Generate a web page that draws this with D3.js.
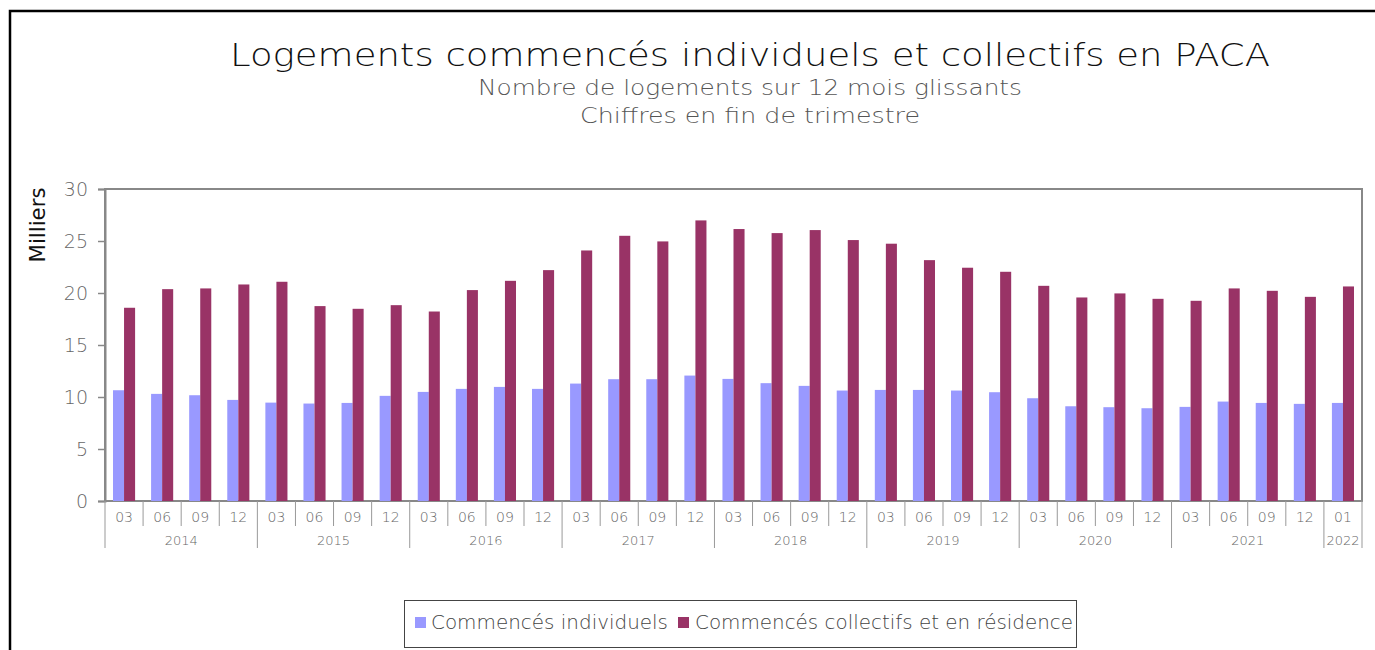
<!DOCTYPE html>
<html>
<head>
<meta charset="utf-8">
<script src="https://cdn.jsdelivr.net/npm/d3@7"></script>
<style>
  body { margin: 0; background: #fff; }
  svg { font-family: "DejaVu Sans", sans-serif; }
</style>
</head>
<body>
<div id="chart"></div>
<script>
// quarter labels and years
const periods = [
  "2014-03","2014-06","2014-09","2014-12",
  "2015-03","2015-06","2015-09","2015-12",
  "2016-03","2016-06","2016-09","2016-12",
  "2017-03","2017-06","2017-09","2017-12",
  "2018-03","2018-06","2018-09","2018-12",
  "2019-03","2019-06","2019-09","2019-12",
  "2020-03","2020-06","2020-09","2020-12",
  "2021-03","2021-06","2021-09","2021-12",
  "2022-01"
];
const individuels = [
  10.65, 10.3, 10.17, 9.72, 9.46, 9.37, 9.43, 10.11, 10.49, 10.78, 10.97, 10.78,
  11.29, 11.71, 11.71, 12.06, 11.74, 11.33, 11.07, 10.62, 10.68, 10.68, 10.62, 10.46,
  9.88, 9.11, 9.02, 8.92, 9.05, 9.56, 9.43, 9.34, 9.43
];
const collectifs = [
  18.58, 20.37, 20.44, 20.82, 21.08, 18.74, 18.48, 18.83, 18.22, 20.28, 21.17, 22.2,
  24.09, 25.5, 24.96, 26.98, 26.15, 25.76, 26.05, 25.09, 24.74, 23.16, 22.43, 22.04,
  20.69, 19.57, 19.96, 19.44, 19.25, 20.44, 20.21, 19.63, 20.63
];
const seriesNames = ["Commencés individuels", "Commencés collectifs et en résidence"];
const yTicks = [0, 5, 10, 15, 20, 25, 30];

const W = 1375, H = 650;
const plot = { left: 105, right: 1362, top: 189, bottom: 501 };
const colors = ["#9999ff", "#993366"];

const svg = d3.select("#chart").append("svg")
  .attr("width", W).attr("height", H);

// outer frame
svg.append("rect")
  .attr("x", 10).attr("y", 11).attr("width", W + 20).attr("height", H + 20)
  .attr("fill", "none").attr("stroke", "#000").attr("stroke-width", 2.5);

// titles
svg.append("text").attr("x", 750).attr("y", 66).attr("text-anchor", "middle")
  .attr("font-size", 32).attr("font-weight", 300).attr("fill", "#111")
  .attr("textLength", 1040).attr("lengthAdjust", "spacingAndGlyphs")
  .text("Logements commencés individuels et collectifs en PACA");
svg.append("text").attr("x", 750).attr("y", 95).attr("text-anchor", "middle")
  .attr("font-size", 21).attr("font-weight", 300).attr("fill", "#555")
  .attr("textLength", 544).attr("lengthAdjust", "spacingAndGlyphs")
  .text("Nombre de logements sur 12 mois glissants");
svg.append("text").attr("x", 750).attr("y", 123).attr("text-anchor", "middle")
  .attr("font-size", 21).attr("font-weight", 300).attr("fill", "#555")
  .attr("textLength", 340).attr("lengthAdjust", "spacingAndGlyphs")
  .text("Chiffres en fin de trimestre");

const x = d3.scaleBand().domain(periods).range([plot.left, plot.right]).padding(0);
const y = d3.scaleLinear().domain([0, 30]).range([plot.bottom, plot.top]);
const bw = x.bandwidth() * 0.29;

// plot frame
svg.append("rect")
  .attr("x", plot.left).attr("y", plot.top)
  .attr("width", plot.right - plot.left).attr("height", plot.bottom - plot.top)
  .attr("fill", "none").attr("stroke", "#888").attr("stroke-width", 2);

// y axis
const yAxis = svg.append("g")
  .attr("transform", `translate(${plot.left},0)`)
  .call(d3.axisLeft(y).tickValues(yTicks).tickSize(7).tickPadding(10));
yAxis.select(".domain").attr("stroke", "#888").attr("stroke-width", 2);
yAxis.selectAll(".tick line").attr("stroke", "#888").attr("stroke-width", 1.5);
yAxis.selectAll(".tick text").attr("font-size", 19).attr("font-weight", 300)
  .attr("fill", "#666").attr("font-family", "DejaVu Sans, sans-serif");

svg.append("text")
  .attr("transform", `translate(45,225) rotate(-90)`)
  .attr("text-anchor", "middle").attr("font-size", 21).attr("fill", "#111")
  .attr("textLength", 75).attr("lengthAdjust", "spacingAndGlyphs")
  .text("Milliers");

// bars
const g = svg.append("g");
g.selectAll(".ind").data(periods).join("rect")
  .attr("x", d => x(d) + x.bandwidth() / 2 - bw)
  .attr("y", (d, i) => y(individuels[i]))
  .attr("width", bw)
  .attr("height", (d, i) => y(0) - y(individuels[i]))
  .attr("fill", colors[0]);
g.selectAll(".col").data(periods).join("rect")
  .attr("x", d => x(d) + x.bandwidth() / 2)
  .attr("y", (d, i) => y(collectifs[i]))
  .attr("width", bw)
  .attr("height", (d, i) => y(0) - y(collectifs[i]))
  .attr("fill", colors[1]);

// x axis: quarter labels + separators
const xa = svg.append("g");
periods.forEach((p, i) => {
  const [yr, m] = p.split("-");
  const x0 = x(p);
  const newYear = i === 0 || periods[i - 1].split("-")[0] !== yr;
  xa.append("line")
    .attr("x1", x0).attr("x2", x0)
    .attr("y1", plot.bottom).attr("y2", newYear ? 548 : 526)
    .attr("stroke", "#999").attr("stroke-width", 1);
  xa.append("text")
    .attr("x", x0 + x.bandwidth() / 2).attr("y", 522)
    .attr("text-anchor", "middle").attr("font-size", 14).attr("font-weight", 300)
    .attr("fill", "#666").text(m);
});
xa.append("line")
  .attr("x1", plot.right).attr("x2", plot.right)
  .attr("y1", plot.bottom).attr("y2", 548)
  .attr("stroke", "#999").attr("stroke-width", 1);

// year labels
const years = Array.from(new Set(periods.map(p => p.split("-")[0])));
years.forEach(yr => {
  const ps = periods.filter(p => p.startsWith(yr));
  const xs = x(ps[0]);
  const xe = x(ps[ps.length - 1]) + x.bandwidth();
  xa.append("text")
    .attr("x", (xs + xe) / 2).attr("y", 545)
    .attr("text-anchor", "middle").attr("font-size", 13).attr("font-weight", 300)
    .attr("fill", "#666").text(yr);
});

// legend
const lg = svg.append("g");
lg.append("rect")
  .attr("x", 404.5).attr("y", 600.5).attr("width", 672).attr("height", 47)
  .attr("fill", "#fff").attr("stroke", "#444").attr("stroke-width", 1);
const legendItems = [
  { sx: 415, tx: 431, tl: 237 },
  { sx: 678, tx: 695, tl: 378 }
];
legendItems.forEach((it, i) => {
  lg.append("rect").attr("x", it.sx).attr("y", 617).attr("width", 11).attr("height", 11)
    .attr("fill", colors[i]);
  lg.append("text").attr("x", it.tx).attr("y", 629)
    .attr("font-size", 19).attr("font-weight", 300).attr("fill", "#444")
    .attr("textLength", it.tl).attr("lengthAdjust", "spacingAndGlyphs")
    .text(seriesNames[i]);
});
</script>
</body>
</html>
